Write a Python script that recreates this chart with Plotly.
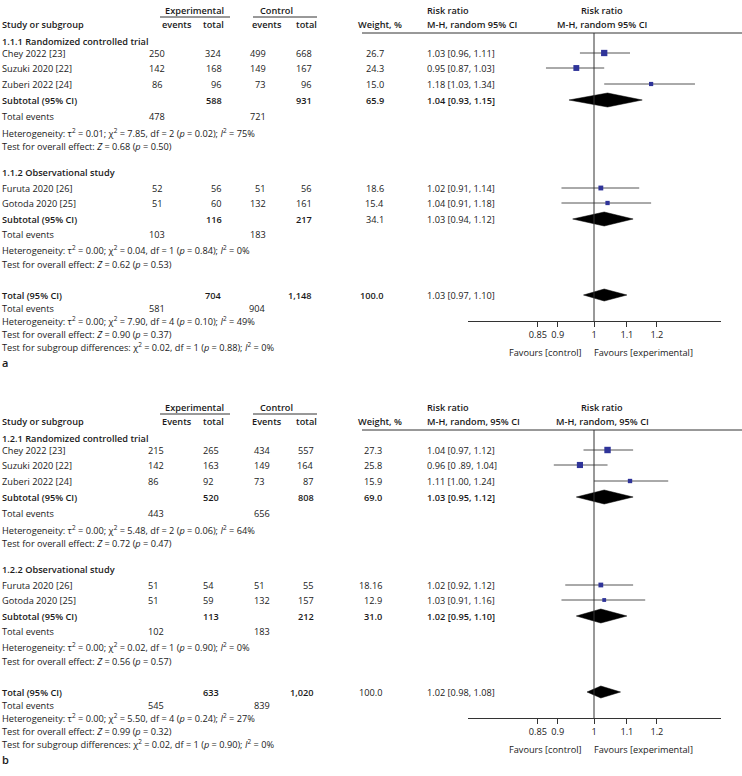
import math
import plotly.graph_objects as go

W, H = 742, 776
FONT = "Open Sans"
FS = 9.2
TXT = "#1a1a1a"

# ---------------- Panel a data ----------------
a_groups = ["1.1.1 Randomized controlled trial", "1.1.2 Observational study"]
a_group_of = [0, 0, 0, 1, 1]
a_studies = ["Chey 2022 [23]", "Suzuki 2020 [22]", "Zuberi 2022 [24]", "Furuta 2020 [26]", "Gotoda 2020 [25]"]
a_exp_events = ["250", "142", "86", "52", "51"]
a_exp_total = ["324", "168", "96", "56", "60"]
a_ctl_events = ["499", "149", "73", "51", "132"]
a_ctl_total = ["668", "167", "96", "56", "161"]
a_weight = [26.7, 24.3, 15.0, 18.6, 15.4]
a_weight_lbl = ["26.7", "24.3", "15.0", "18.6", "15.4"]
a_rr = [1.03, 0.95, 1.18, 1.02, 1.04]
a_lo = [0.96, 0.87, 1.03, 0.91, 0.91]
a_hi = [1.11, 1.03, 1.34, 1.14, 1.18]
a_rr_lbl = ["1.03 [0.96, 1.11]", "0.95 [0.87, 1.03]", "1.18 [1.03, 1.34]", "1.02 [0.91, 1.14]", "1.04 [0.91, 1.18]"]

a_sub_exp_total = ["588", "116"]
a_sub_ctl_total = ["931", "217"]
a_sub_exp_events = ["478", "103"]
a_sub_ctl_events = ["721", "183"]
a_sub_weight_lbl = ["65.9", "34.1"]
a_sub_rr = [1.04, 1.03]
a_sub_lo = [0.93, 0.94]
a_sub_hi = [1.15, 1.12]
a_sub_rr_lbl = ["1.04 [0.93, 1.15]", "1.03 [0.94, 1.12]"]
a_sub_het = ["Heterogeneity: τ<sup>2</sup> = 0.01; χ<sup>2</sup> = 7.85, df = 2 (<i>p</i> = 0.02); <i>I</i><sup>2</sup> = 75%",
             "Heterogeneity: τ<sup>2</sup> = 0.00; χ<sup>2</sup> = 0.04, df = 1 (<i>p</i> = 0.84); <i>I</i><sup>2</sup> = 0%"]
a_sub_test = ["Test for overall effect: <i>Z</i> = 0.68 (<i>p</i> = 0.50)",
              "Test for overall effect: <i>Z</i> = 0.62 (<i>p</i> = 0.53)"]

a_tot = {"exp_total": "704", "ctl_total": "1,148", "exp_events": "581", "ctl_events": "904",
         "weight": "100.0", "rr": 1.03, "lo": 0.97, "hi": 1.10, "rr_lbl": "1.03 [0.97, 1.10]"}
a_tot_het = "Heterogeneity: τ<sup>2</sup> = 0.00; χ<sup>2</sup> = 7.90, df = 4 (<i>p</i> = 0.10); <i>I</i><sup>2</sup> = 49%"
a_tot_test = "Test for overall effect: <i>Z</i> = 0.90 (<i>p</i> = 0.37)"
a_tot_sub = "Test for subgroup differences: χ<sup>2</sup> = 0.02, df = 1 (<i>p</i> = 0.88); <i>I</i><sup>2</sup> = 0%"

# ---------------- Panel b data ----------------
b_groups = ["1.2.1 Randomized controlled trial", "1.2.2 Observational study"]
b_group_of = [0, 0, 0, 1, 1]
b_studies = ["Chey 2022 [23]", "Suzuki 2020 [22]", "Zuberi 2022 [24]", "Furuta 2020 [26]", "Gotoda 2020 [25]"]
b_exp_events = ["215", "142", "86", "51", "51"]
b_exp_total = ["265", "163", "92", "54", "59"]
b_ctl_events = ["434", "149", "73", "51", "132"]
b_ctl_total = ["557", "164", "87", "55", "157"]
b_weight = [27.3, 25.8, 15.9, 18.16, 12.9]
b_weight_lbl = ["27.3", "25.8", "15.9", "18.16", "12.9"]
b_rr = [1.04, 0.96, 1.11, 1.02, 1.03]
b_lo = [0.97, 0.89, 1.00, 0.92, 0.91]
b_hi = [1.12, 1.04, 1.24, 1.12, 1.16]
b_rr_lbl = ["1.04 [0.97, 1.12]", "0.96 [0 .89, 1.04]", "1.11 [1.00, 1.24]", "1.02 [0.92, 1.12]", "1.03 [0.91, 1.16]"]

b_sub_exp_total = ["520", "113"]
b_sub_ctl_total = ["808", "212"]
b_sub_exp_events = ["443", "102"]
b_sub_ctl_events = ["656", "183"]
b_sub_weight_lbl = ["69.0", "31.0"]
b_sub_rr = [1.03, 1.02]
b_sub_lo = [0.95, 0.95]
b_sub_hi = [1.12, 1.10]
b_sub_rr_lbl = ["1.03 [0.95, 1.12]", "1.02 [0.95, 1.10]"]
b_sub_het = ["Heterogeneity: τ<sup>2</sup> = 0.00; χ<sup>2</sup> = 5.48, df = 2 (<i>p</i> = 0.06); <i>I</i><sup>2</sup> = 64%",
             "Heterogeneity: τ<sup>2</sup> = 0.00; χ<sup>2</sup> = 0.02, df = 1 (<i>p</i> = 0.90); <i>I</i><sup>2</sup> = 0%"]
b_sub_test = ["Test for overall effect: <i>Z</i> = 0.72 (<i>p</i> = 0.47)",
              "Test for overall effect: <i>Z</i> = 0.56 (<i>p</i> = 0.57)"]

b_tot = {"exp_total": "633", "ctl_total": "1,020", "exp_events": "545", "ctl_events": "839",
         "weight": "100.0", "rr": 1.02, "lo": 0.98, "hi": 1.08, "rr_lbl": "1.02 [0.98, 1.08]"}
b_tot_het = "Heterogeneity: τ<sup>2</sup> = 0.00; χ<sup>2</sup> = 5.50, df = 4 (<i>p</i> = 0.24); <i>I</i><sup>2</sup> = 27%"
b_tot_test = "Test for overall effect: <i>Z</i> = 0.99 (<i>p</i> = 0.32)"
b_tot_sub = "Test for subgroup differences: χ<sup>2</sup> = 0.02, df = 1 (<i>p</i> = 0.90); <i>I</i><sup>2</sup> = 0%"

tick_vals = [0.85, 0.9, 1, 1.1, 1.2]
tick_text = ["0.85", "0.9", "1", "1.1", "1.2"]

# ---------------- Layout helpers ----------------
annotations = []
shapes = []
fig = go.Figure()


def txt(x, y, s, anchor="left", size=FS, bold=False):
    annotations.append(dict(x=x / W, y=y, xref="paper", yref="y", text=s, showarrow=False,
                            xanchor=anchor, yanchor="middle", borderpad=0,
                            font=dict(family=FONT, size=size, color=TXT, weight=600 if bold else 400)))


def hline(x0, x1, y, color="#333333"):
    shapes.append(dict(type="line", xref="paper", yref="y", x0=x0 / W, x1=x1 / W, y0=y, y1=y,
                       line=dict(color=color, width=1)))


# row positions (pixels from panel top)
ROW = dict(exp_hdr=10, underline=17, col_hdr=24, hline=33,
           g=[41, 172], studies=[[53, 68, 84], [188, 203]], sub=[100, 219], ev=[116, 234],
           het=[133, 250], test=[146, 264], tot=295, totev=308, tothet=321, tottest=334,
           totsub=347, label=362, axis=321, favours=352)

AX_X0, AX_X1 = 468, 721          # pixel extent of the forest axis
X_RANGE = [math.log10(0.694), math.log10(1.445)]


def panel(off, xa, name, hdr_rr, cols, groups, group_of, studies, ee, et, ce, ct, w, wl, rr, lo, hi, rrl,
          s_et, s_ct, s_ee, s_ce, s_wl, s_rr, s_lo, s_hi, s_rrl, s_het, s_test, s_bold,
          tot, t_het, t_test, t_sub, t_bold):
    (c_ee, a_ee), (c_et, a_et), (c_ce, a_ce), (c_ct, a_ct), (c_w, a_w), (c_rr, a_rr) = cols
    ev_word = "events" if name == "a" else "Events"
    # headers
    txt(195, off + ROW["exp_hdr"], "Experimental", "center", bold=True)
    txt(276, off + ROW["exp_hdr"], "Control", "center", bold=True)
    hline(160, 230, off + ROW["underline"])
    hline(253, 317, off + ROW["underline"])
    txt(1, off + ROW["col_hdr"], "Study or subgroup", bold=True)
    txt(177, off + ROW["col_hdr"], ev_word, "center", bold=True)
    txt(213, off + ROW["col_hdr"], "total", "center", bold=True)
    txt(267, off + ROW["col_hdr"], ev_word, "center", bold=True)
    txt(306, off + ROW["col_hdr"], "total", "center", bold=True)
    txt(380, off + ROW["col_hdr"], "Weight, %", "center", bold=True)
    txt(426, off + ROW["exp_hdr"], "Risk ratio", bold=True)
    txt(426, off + ROW["col_hdr"], hdr_rr, bold=True)
    txt(602, off + ROW["exp_hdr"], "Risk ratio", "center", bold=True)
    txt(602, off + ROW["col_hdr"], hdr_rr, "center", bold=True)
    hline(362, W, off + ROW["hline"])
    # vertical line of no effect
    shapes.append(dict(type="line", xref=xa, yref="y", x0=1, x1=1, y0=off + ROW["hline"], y1=off + ROW["axis"],
                       line=dict(color="#333333", width=1)))

    for g in range(len(groups)):
        txt(1, off + ROW["g"][g], groups[g], bold=True)
        members = [j for j in range(len(studies)) if group_of[j] == g]
        for k, yrow in enumerate(ROW["studies"][g]):
            i = members[k]
            y = off + yrow
            txt(1, y, studies[i])
            txt(c_ee, y, ee[i], a_ee)
            txt(c_et, y, et[i], a_et)
            txt(c_ce, y, ce[i], a_ce)
            txt(c_ct, y, ct[i], a_ct)
            txt(c_w, y, wl[i], a_w)
            txt(c_rr, y, rrl[i], a_rr)
            fig.add_trace(go.Scatter(x=[lo[i], hi[i]], y=[y, y], mode="lines", xaxis=xa, yaxis="y",
                                     line=dict(color="#555555", width=1), hoverinfo="skip", showlegend=False))
            fig.add_trace(go.Scatter(x=[rr[i]], y=[y], mode="markers", xaxis=xa, yaxis="y",
                                     marker=dict(symbol="square", color="#2f3499", size=1.5 + 0.18 * w[i],
                                                 line=dict(width=0)),
                                     hoverinfo="skip", showlegend=False))
        y = off + ROW["sub"][g]
        b = s_bold[g]
        txt(1, y, "Subtotal (95% CI)", bold=True)
        txt(c_et, y, s_et[g], a_et, bold=True)
        txt(c_ct, y, s_ct[g], a_ct, bold=True)
        txt(c_w, y, s_wl[g], a_w, bold=b)
        txt(c_rr, y, s_rrl[g], a_rr, bold=b)
        fig.add_trace(go.Scatter(x=[s_lo[g], s_rr[g], s_hi[g], s_rr[g], s_lo[g]],
                                 y=[y, y - 7, y, y + 7, y], mode="lines", fill="toself", fillcolor="#000000",
                                 xaxis=xa, yaxis="y", line=dict(color="#000000", width=0.5),
                                 hoverinfo="skip", showlegend=False))
        y = off + ROW["ev"][g]
        txt(1, y, "Total events")
        txt(c_ee, y, s_ee[g], a_ee)
        txt(c_ce, y, s_ce[g], a_ce)
        txt(1, off + ROW["het"][g], s_het[g])
        txt(1, off + ROW["test"][g], s_test[g])

    y = off + ROW["tot"]
    txt(1, y, "Total (95% CI)", bold=True)
    txt(c_et, y, tot["exp_total"], a_et, bold=True)
    txt(c_ct, y, tot["ctl_total"], a_ct, bold=True)
    txt(c_w, y, tot["weight"], a_w, bold=t_bold)
    txt(c_rr, y, tot["rr_lbl"], a_rr)
    fig.add_trace(go.Scatter(x=[tot["lo"], tot["rr"], tot["hi"], tot["rr"], tot["lo"]],
                             y=[y, y - 6, y, y + 6, y], mode="lines", fill="toself", fillcolor="#000000",
                             xaxis=xa, yaxis="y", line=dict(color="#000000", width=0.5),
                             hoverinfo="skip", showlegend=False))
    y = off + ROW["totev"]
    txt(1, y, "Total events")
    txt(c_ee, y, tot["exp_events"], a_ee)
    txt(c_ce, y, tot["ctl_events"], a_ce)
    txt(1, off + ROW["tothet"], t_het)
    txt(1, off + ROW["tottest"], t_test)
    txt(1, off + ROW["totsub"], t_sub)
    txt(1, off + ROW["label"], name, size=11, bold=True)
    txt(583, off + ROW["favours"], "Favours [control]", "right")
    txt(593, off + ROW["favours"], "Favours [experimental]", "left")


cols_a = [(157, "center"), (223, "right"), (267, "right"), (313, "right"), (385, "right"), (426, "left")]
cols_b = [(147, "left"), (202, "left"), (253, "left"), (315, "right"), (383, "right"), (426, "left")]

OFF_A, OFF_B = 0, 397
panel(OFF_A, "x", "a", "M-H, random 95% CI", cols_a, a_groups, a_group_of, a_studies, a_exp_events, a_exp_total,
      a_ctl_events, a_ctl_total, a_weight, a_weight_lbl, a_rr, a_lo, a_hi, a_rr_lbl,
      a_sub_exp_total, a_sub_ctl_total, a_sub_exp_events, a_sub_ctl_events, a_sub_weight_lbl,
      a_sub_rr, a_sub_lo, a_sub_hi, a_sub_rr_lbl, a_sub_het, a_sub_test, [True, False],
      a_tot, a_tot_het, a_tot_test, a_tot_sub, True)
panel(OFF_B, "x2", "b", "M-H, random, 95% CI", cols_b, b_groups, b_group_of, b_studies, b_exp_events, b_exp_total,
      b_ctl_events, b_ctl_total, b_weight, b_weight_lbl, b_rr, b_lo, b_hi, b_rr_lbl,
      b_sub_exp_total, b_sub_ctl_total, b_sub_exp_events, b_sub_ctl_events, b_sub_weight_lbl,
      b_sub_rr, b_sub_lo, b_sub_hi, b_sub_rr_lbl, b_sub_het, b_sub_test, [True, True],
      b_tot, b_tot_het, b_tot_test, b_tot_sub, False)

axis_common = dict(type="log", range=X_RANGE, domain=[AX_X0 / W, AX_X1 / W], anchor="free",
                   showline=True, linecolor="#333333", linewidth=1, ticks="outside", ticklen=5,
                   tickcolor="#333333", tickwidth=1, tickvals=tick_vals, ticktext=tick_text,
                   showgrid=False, zeroline=False, fixedrange=True,
                   tickfont=dict(family=FONT, size=FS, color=TXT))

fig.update_layout(
    width=W, height=H, margin=dict(l=0, r=0, t=0, b=0),
    paper_bgcolor="white", plot_bgcolor="rgba(0,0,0,0)",
    xaxis=dict(**axis_common, position=1 - (OFF_A + ROW["axis"]) / H),
    xaxis2=dict(**axis_common, position=1 - (OFF_B + ROW["axis"]) / H),
    yaxis=dict(range=[H, 0], domain=[0, 1], visible=False, fixedrange=True),
    annotations=annotations, shapes=shapes, showlegend=False,
)

fig.write_html("out.html", config={"displayModeBar": False},
               post_script="document.body.style.margin='0';document.body.style.padding='0';")
